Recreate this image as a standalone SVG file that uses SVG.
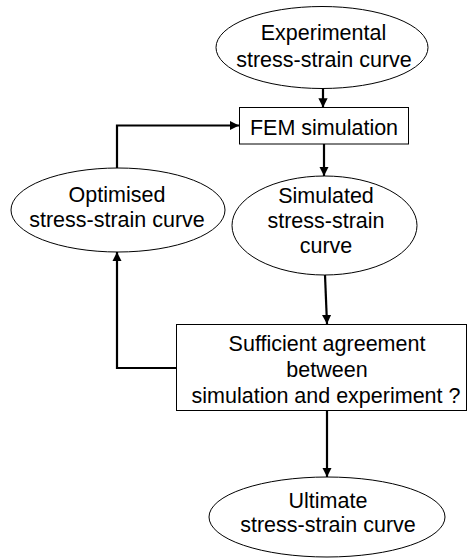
<svg xmlns="http://www.w3.org/2000/svg" width="468" height="558" viewBox="0 0 468 558">
<style>
.n{fill:#fff;stroke:#000;stroke-width:1}
.t{font-family:"Liberation Sans",Arial,sans-serif;font-size:21.5px;fill:#000;text-anchor:middle}
.c{fill:none;stroke:#000;stroke-width:2.2}
</style>
<defs>
<marker id="ah" viewBox="0 0 10 10" refX="10" refY="5" markerWidth="4.2" markerHeight="4.2" orient="auto" markerUnits="strokeWidth">
<path d="M0,0 L10,5 L0,10 z" fill="#000"/>
</marker>
</defs>
<rect width="468" height="558" fill="#fff"/>
<g id="connectors">
<line class="c" x1="323" y1="88.5" x2="323" y2="107.5" marker-end="url(#ah)"/>
<line class="c" x1="324" y1="144" x2="324" y2="176" marker-end="url(#ah)"/>
<path class="c" d="M117,168 V125.5 H239" marker-end="url(#ah)"/>
<line class="c" x1="325" y1="275" x2="327" y2="324" marker-end="url(#ah)"/>
<path class="c" d="M176,368 H117 V252" marker-end="url(#ah)"/>
<line class="c" x1="327" y1="411" x2="327" y2="477" marker-end="url(#ah)"/>
</g>
<g id="experimental">
<ellipse class="n" cx="322" cy="47.5" rx="106" ry="41"/>
<text class="t" x="323.5" y="40">Experimental</text>
<text class="t" x="324" y="67">stress-strain curve</text>
</g>
<g id="fem">
<rect class="n" x="239.5" y="107.5" width="169" height="36.5"/>
<text class="t" x="324" y="135">FEM simulation</text>
</g>
<g id="optimised">
<ellipse class="n" cx="118" cy="210" rx="107" ry="42"/>
<text class="t" x="117" y="202">Optimised</text>
<text class="t" x="117" y="227">stress-strain curve</text>
</g>
<g id="simulated">
<ellipse class="n" cx="324.5" cy="225.5" rx="92.5" ry="49.5"/>
<text class="t" x="326" y="203">Simulated</text>
<text class="t" x="326" y="228">stress-strain</text>
<text class="t" x="326" y="253">curve</text>
</g>
<g id="decision">
<rect class="n" x="176.5" y="324.5" width="290" height="86"/>
<text class="t" x="327" y="351">Sufficient agreement</text>
<text class="t" x="327" y="377">between</text>
<text class="t" x="326" y="403">simulation and experiment ?</text>
</g>
<g id="ultimate">
<ellipse class="n" cx="327" cy="517" rx="118" ry="40"/>
<text class="t" x="328" y="508">Ultimate</text>
<text class="t" x="328" y="532">stress-strain curve</text>
</g>
</svg>
